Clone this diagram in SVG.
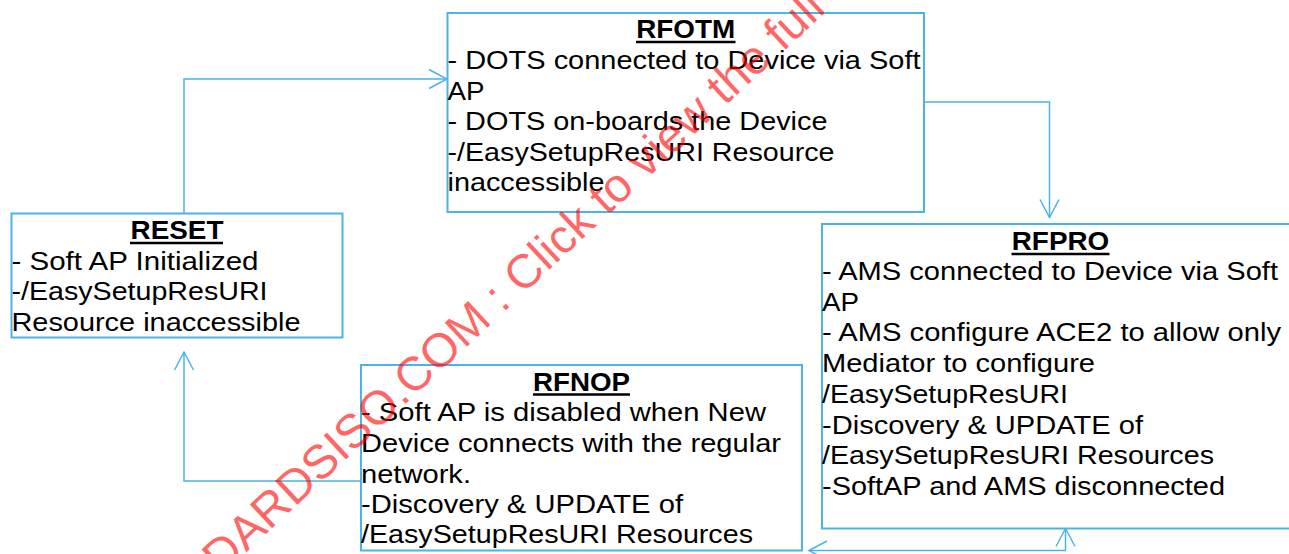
<svg xmlns="http://www.w3.org/2000/svg" width="1289" height="554" viewBox="0 0 1289 554">
<style>
.box{fill:#fff;stroke:#4db3e6;stroke-width:2}
.t{font-family:"Liberation Sans",Arial,sans-serif;font-size:26.5px;fill:#000}
.h{font-family:"Liberation Sans",Arial,sans-serif;font-size:26.5px;font-weight:bold;fill:#000;text-anchor:middle}
.u{stroke:#000;stroke-width:2.5}
.c{fill:none;stroke:#4db3e6;stroke-width:1.5}
.wm{font-family:"Liberation Sans",Arial,sans-serif;font-size:47.5px;fill:#ff0000;fill-opacity:0.6}
</style>
<defs>
<marker id="arr" viewBox="-20 -11 22 22" refX="0" refY="0" markerWidth="22" markerHeight="22" markerUnits="userSpaceOnUse" orient="auto-start-reverse">
<path d="M-18,-9.5 L0,0 L-18,9.5" fill="none" stroke="#4db3e6" stroke-width="1.5"/>
</marker>
</defs>
<rect width="1289" height="554" fill="#fff"/>
<g id="connectors">
<path class="c" d="M184,213 V79 H447" marker-end="url(#arr)"/>
<path class="c" d="M924,102 H1049.5 V217.5" marker-end="url(#arr)"/>
<path class="c" d="M1065.5,528.5 V550.5 H809" marker-start="url(#arr)" marker-end="url(#arr)"/>
<path class="c" d="M361,481 H184 V352" marker-end="url(#arr)"/>
</g>
<g id="reset">
<rect class="box" x="11.5" y="213.5" width="331" height="124"/>
<text class="h" x="177" y="239" textLength="93" lengthAdjust="spacingAndGlyphs">RESET</text>
<line class="u" x1="130" y1="243" x2="223" y2="243"/>
<text class="t" x="11.5" y="269.5" textLength="247" lengthAdjust="spacingAndGlyphs">- Soft AP Initialized</text>
<text class="t" x="11.5" y="300" textLength="256" lengthAdjust="spacingAndGlyphs">-/EasySetupResURI</text>
<text class="t" x="11.5" y="330.5" textLength="289" lengthAdjust="spacingAndGlyphs">Resource inaccessible</text>
</g>
<g id="rfotm">
<rect class="box" x="447.5" y="13" width="476.5" height="199"/>
<text class="h" x="685.75" y="38" textLength="99" lengthAdjust="spacingAndGlyphs">RFOTM</text>
<line class="u" x1="636" y1="42" x2="735.5" y2="42"/>
<text class="t" x="447.5" y="69" textLength="473" lengthAdjust="spacingAndGlyphs">- DOTS connected to Device via Soft</text>
<text class="t" x="447.5" y="99.5" textLength="37" lengthAdjust="spacingAndGlyphs">AP</text>
<text class="t" x="447.5" y="130" textLength="380" lengthAdjust="spacingAndGlyphs">- DOTS on-boards the Device</text>
<text class="t" x="447.5" y="160.5" textLength="387" lengthAdjust="spacingAndGlyphs">-/EasySetupResURI Resource</text>
<text class="t" x="447.5" y="191" textLength="157" lengthAdjust="spacingAndGlyphs">inaccessible</text>
</g>
<g id="rfpro">
<rect class="box" x="822" y="224" width="480" height="304.5"/>
<text class="h" x="1060.5" y="250" textLength="97.5" lengthAdjust="spacingAndGlyphs">RFPRO</text>
<line class="u" x1="1011.5" y1="254" x2="1109.5" y2="254"/>
<text class="t" x="822" y="280" textLength="456" lengthAdjust="spacingAndGlyphs">- AMS connected to Device via Soft</text>
<text class="t" x="822" y="310.5" textLength="37" lengthAdjust="spacingAndGlyphs">AP</text>
<text class="t" x="822" y="341" textLength="459" lengthAdjust="spacingAndGlyphs">- AMS configure ACE2 to allow only</text>
<text class="t" x="822" y="372" textLength="273" lengthAdjust="spacingAndGlyphs">Mediator to configure</text>
<text class="t" x="822" y="402.5" textLength="246" lengthAdjust="spacingAndGlyphs">/EasySetupResURI</text>
<text class="t" x="822" y="433.5" textLength="321" lengthAdjust="spacingAndGlyphs">-Discovery &amp; UPDATE of</text>
<text class="t" x="822" y="464" textLength="392" lengthAdjust="spacingAndGlyphs">/EasySetupResURI Resources</text>
<text class="t" x="822" y="495" textLength="403" lengthAdjust="spacingAndGlyphs">-SoftAP and AMS disconnected</text>
</g>
<g id="rfnop">
<rect class="box" x="361" y="365" width="441" height="185.5"/>
<text class="h" x="581.5" y="390.5" textLength="97" lengthAdjust="spacingAndGlyphs">RFNOP</text>
<line class="u" x1="533" y1="394.5" x2="630" y2="394.5"/>
<text class="t" x="361" y="420.7" textLength="405" lengthAdjust="spacingAndGlyphs">- Soft AP is disabled when New</text>
<text class="t" x="361" y="451.7" textLength="420" lengthAdjust="spacingAndGlyphs">Device connects with the regular</text>
<text class="t" x="361" y="482.5" textLength="110" lengthAdjust="spacingAndGlyphs">network.</text>
<text class="t" x="361" y="513.3" textLength="322" lengthAdjust="spacingAndGlyphs">-Discovery &amp; UPDATE of</text>
<text class="t" x="361" y="542.7" textLength="392" lengthAdjust="spacingAndGlyphs">/EasySetupResURI Resources</text>
</g>
<text class="wm" transform="translate(131,660) rotate(-43)">STANDARDSISO.COM : Click to view the full</text>
</svg>
